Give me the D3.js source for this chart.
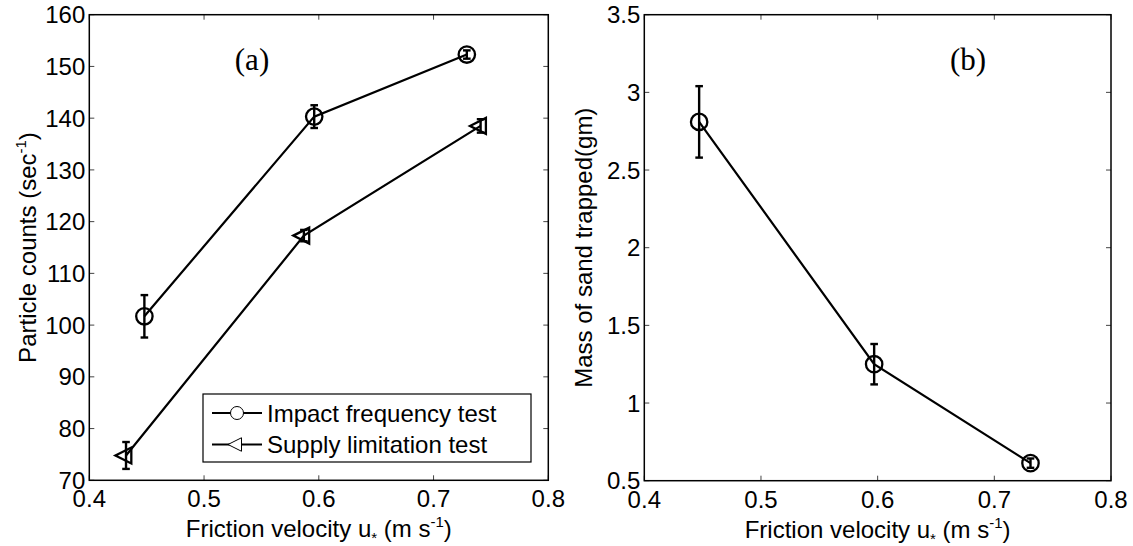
<!DOCTYPE html>
<html>
<head>
<meta charset="utf-8">
<script src="https://cdn.jsdelivr.net/npm/d3@7"></script>
<style>
  html, body { margin: 0; padding: 0; background: #fff; }
  text { font-family: "Liberation Sans", Arial, sans-serif; fill: #000; }
</style>
</head>
<body>
<svg id="chart" width="1133" height="546"></svg>
<script>
// ---------- data ----------
const xTicks = [0.4, 0.5, 0.6, 0.7, 0.8];
const xTickLabels = ["0.4", "0.5", "0.6", "0.7", "0.8"];
const yTicksA = [70, 80, 90, 100, 110, 120, 130, 140, 150, 160];
const yTicksB = [0.5, 1, 1.5, 2, 2.5, 3, 3.5];
const yTickLabelsB = ["0.5", "1", "1.5", "2", "2.5", "3", "3.5"];

const seriesNames = ["Impact frequency test", "Supply limitation test"];

const xImpact = [0.448, 0.596, 0.729];
const yImpact = [101.7, 140.3, 152.3];
const eImpact = [4.1, 2.2, 0.8];

const xSupply = [0.432, 0.587, 0.741];
const ySupply = [74.8, 117.3, 138.5];
const eSupply = [2.6, 1.1, 1.3];

const xMass = [0.447, 0.597, 0.731];
const yMass = [2.81, 1.25, 0.613];
const eMass = [0.23, 0.13, 0.03];

// ---------- drawing ----------
const svg = d3.select("#chart");
const FS = 24;
const SUP = 15;

function triPath(s) {
  // left-pointing triangle centred on its centroid
  return `M${-2 * s},0 L${s},${-1.5 * s} L${s},${1.5 * s} Z`;
}

function panel(opts) {
  const g = svg.append("g");
  const x = d3.scaleLinear().domain([0.4, 0.8]).range([opts.x0, opts.x1]);
  const y = d3.scaleLinear().domain(opts.yDomain).range([opts.y1, opts.y0]);
  const tl = 5;

  // ticks (inward on all four sides)
  const tickG = g.append("g").attr("stroke", "#444").attr("stroke-width", 1);
  xTicks.forEach(v => {
    tickG.append("line").attr("x1", x(v)).attr("x2", x(v)).attr("y1", opts.y1).attr("y2", opts.y1 - tl);
    tickG.append("line").attr("x1", x(v)).attr("x2", x(v)).attr("y1", opts.y0).attr("y2", opts.y0 + tl);
  });
  opts.yTicks.forEach(v => {
    tickG.append("line").attr("x1", opts.x0).attr("x2", opts.x0 + tl).attr("y1", y(v)).attr("y2", y(v));
    tickG.append("line").attr("x1", opts.x1).attr("x2", opts.x1 - tl).attr("y1", y(v)).attr("y2", y(v));
  });

  // frame
  g.append("rect").attr("x", opts.x0).attr("y", opts.y0)
    .attr("width", opts.x1 - opts.x0).attr("height", opts.y1 - opts.y0)
    .attr("fill", "none").attr("stroke", "#000").attr("stroke-width", 1.5);

  // tick labels
  xTicks.forEach((v, i) => {
    g.append("text").attr("x", x(v)).attr("y", opts.y1 + 27)
      .attr("text-anchor", "middle").attr("font-size", FS).text(xTickLabels[i]);
  });
  opts.yTicks.forEach((v, i) => {
    g.append("text").attr("x", opts.x0 - 4).attr("y", y(v)).attr("dy", "0.36em")
      .attr("text-anchor", "end").attr("font-size", FS).text(opts.yTickLabels[i]);
  });

  // x title
  const xt = g.append("text").attr("x", (opts.x0 + opts.x1) / 2).attr("y", opts.y1 + 57)
    .attr("text-anchor", "middle").attr("font-size", FS);
  xt.append("tspan").text("Friction velocity u");
  xt.append("tspan").attr("font-size", SUP).attr("dy", 6).text("*");
  xt.append("tspan").attr("dy", -6).text(" (m s");
  xt.append("tspan").attr("font-size", SUP).attr("dy", -10).text("-1");
  xt.append("tspan").attr("dy", 10).text(")");

  // y title
  const yt = g.append("text")
    .attr("transform", `translate(${opts.yLabelX},${(opts.y0 + opts.y1) / 2}) rotate(-90)`)
    .attr("text-anchor", "middle").attr("font-size", FS);
  opts.yLabel(yt);

  // panel letter
  g.append("text").attr("x", opts.letterX).attr("y", 70)
    .attr("text-anchor", "middle").attr("font-size", 31)
    .style("font-family", "'Liberation Serif', 'Times New Roman', serif")
    .text(opts.letter);

  return { g, x, y };
}

function drawSeries(p, xs, ys, es, marker) {
  const line = d3.line().x((d, i) => p.x(xs[i])).y(d => p.y(d));
  p.g.append("path").datum(ys).attr("d", line)
    .attr("fill", "none").attr("stroke", "#000").attr("stroke-width", 2.2);
  const cap = 3.8;
  ys.forEach((v, i) => {
    const cx = p.x(xs[i]);
    const eg = p.g.append("g").attr("stroke", "#000").attr("stroke-width", 2.4);
    eg.append("line").attr("x1", cx).attr("x2", cx).attr("y1", p.y(v - es[i])).attr("y2", p.y(v + es[i]));
    eg.append("line").attr("x1", cx - cap).attr("x2", cx + cap).attr("y1", p.y(v - es[i])).attr("y2", p.y(v - es[i]));
    eg.append("line").attr("x1", cx - cap).attr("x2", cx + cap).attr("y1", p.y(v + es[i])).attr("y2", p.y(v + es[i]));
    if (marker === "circle") {
      p.g.append("circle").attr("cx", cx).attr("cy", p.y(v)).attr("r", 8.2)
        .attr("fill", "none").attr("stroke", "#000").attr("stroke-width", 2.3);
    } else {
      p.g.append("path").attr("d", triPath(5.3))
        .attr("transform", `translate(${cx},${p.y(v)})`)
        .attr("fill", "none").attr("stroke", "#000").attr("stroke-width", 2.3);
    }
  });
}

// ---- panel (a) ----
const pa = panel({
  x0: 89.3, x1: 548.3, y0: 14.7, y1: 480.3,
  yDomain: [70, 160], yTicks: yTicksA, yTickLabels: yTicksA.map(String),
  yLabelX: 36,
  yLabel: t => {
    t.append("tspan").text("Particle counts (sec");
    t.append("tspan").attr("font-size", SUP).attr("dy", -10).text("-1");
    t.append("tspan").attr("dy", 10).text(")");
  },
  letter: "(a)", letterX: 252
});
drawSeries(pa, xImpact, yImpact, eImpact, "circle");
drawSeries(pa, xSupply, ySupply, eSupply, "tri");

// legend
const lg = pa.g.append("g");
lg.append("rect").attr("x", 203).attr("y", 394).attr("width", 328).attr("height", 68)
  .attr("fill", "#fff").attr("stroke", "#000").attr("stroke-width", 1.2);
seriesNames.forEach((name, i) => {
  const yy = 413 + i * 31.5;
  lg.append("line").attr("x1", 212).attr("x2", 262).attr("y1", yy).attr("y2", yy)
    .attr("stroke", "#000").attr("stroke-width", 2.2);
  if (i === 0) {
    lg.append("circle").attr("cx", 237).attr("cy", yy).attr("r", 6.5)
      .attr("fill", "#fff").attr("stroke", "#000").attr("stroke-width", 1);
  } else {
    lg.append("path").attr("d", triPath(4.5)).attr("transform", `translate(${237},${yy})`)
      .attr("fill", "#fff").attr("stroke", "#000").attr("stroke-width", 1);
  }
  lg.append("text").attr("x", 267).attr("y", yy).attr("dy", "0.36em")
    .attr("font-size", FS).text(name);
});

// ---- panel (b) ----
const pb = panel({
  x0: 644.3, x1: 1111, y0: 14.7, y1: 480.7,
  yDomain: [0.5, 3.5], yTicks: yTicksB, yTickLabels: yTickLabelsB,
  yLabelX: 592,
  yLabel: t => { t.text("Mass of sand trapped(gm)"); },
  letter: "(b)", letterX: 968
});
drawSeries(pb, xMass, yMass, eMass, "circle");
</script>
</body>
</html>
